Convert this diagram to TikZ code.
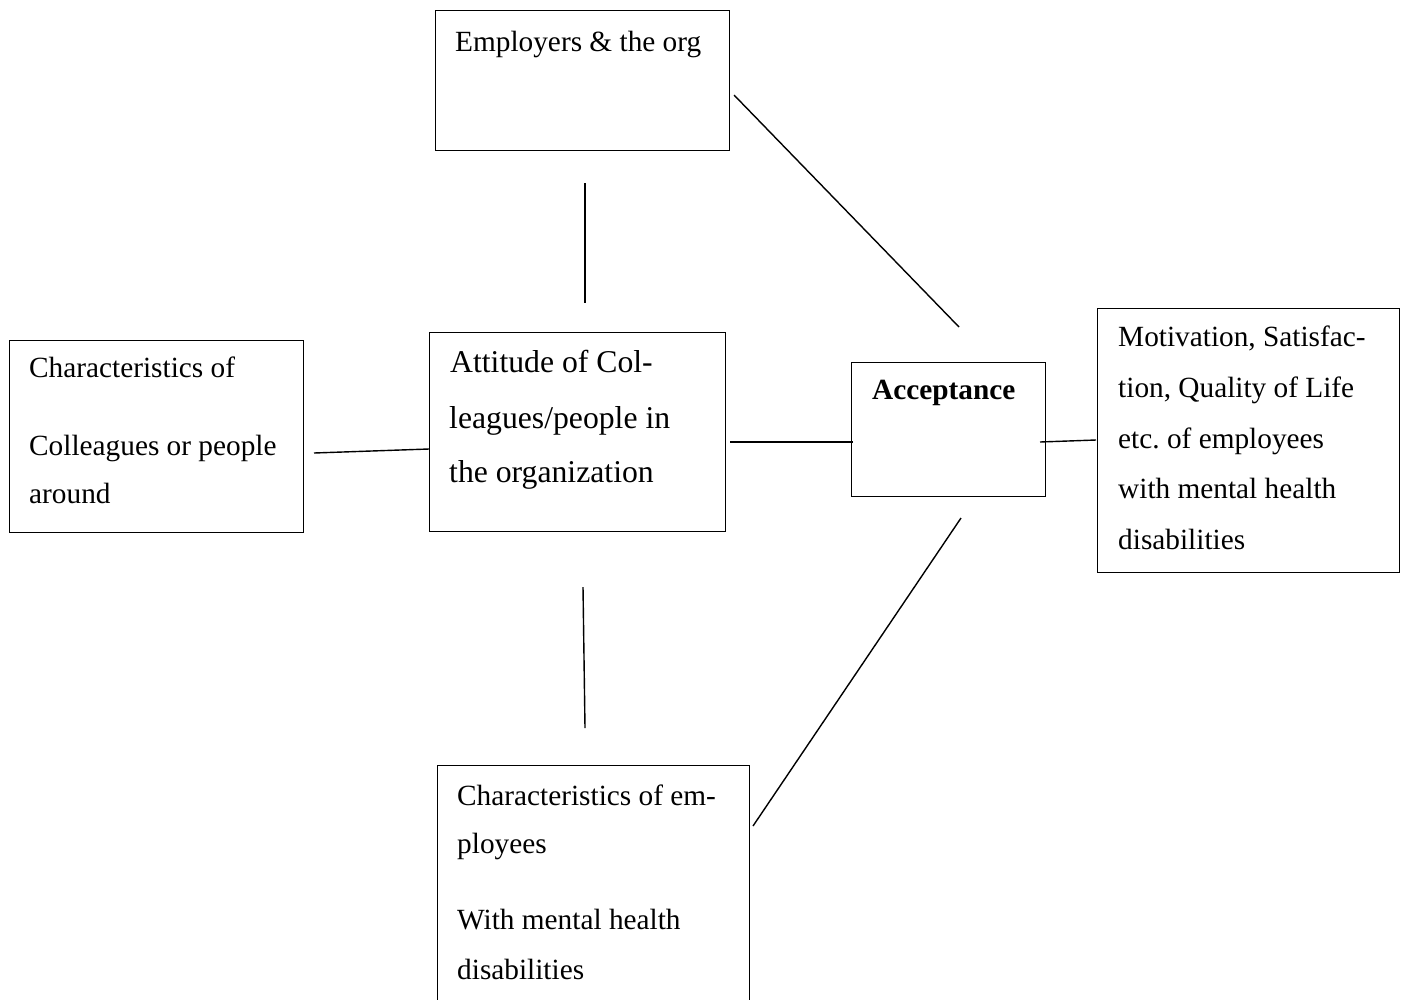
\documentclass[tikz,border=0pt]{standalone}
\usepackage{fontspec}
\setmainfont{Liberation Serif}
\frenchspacing
\begin{document}
\begin{tikzpicture}[x=1pt,y=-1pt,
  box/.style={draw,line width=1.2pt,rectangle,inner sep=0pt,anchor=north west},
  txt/.style={anchor=base west,inner sep=0pt,font=\fontsize{29.3}{35}\selectfont},
  bigtxt/.style={anchor=base west,inner sep=0pt,font=\fontsize{31.7}{38}\selectfont},
  link/.style={line width=1.4pt}]
\clip (0,0) rectangle (1405,999);
\fill[white] (0,0) rectangle (1405,999);

% boxes
\node[box,minimum width=294pt,minimum height=140pt] (emp) at (435,10) {};
\node[box,minimum width=294pt,minimum height=192pt] (char) at (9,340) {};
\node[box,minimum width=296pt,minimum height=199pt] (att) at (429,332) {};
\node[box,minimum width=194pt,minimum height=134pt] (acc) at (851,362) {};
\node[box,minimum width=302pt,minimum height=264pt] (mot) at (1097,308) {};
\node[box,minimum width=312pt,minimum height=260pt] (emd) at (437,765) {};

% texts
\node[txt] (t1) at (455,51) {Employers \& the org};

\node[txt] (t2) at (29,377) {Characteristics of};
\node[txt] (t3) at (29,455) {Colleagues or people};
\node[txt] (t4) at (29,503) {around};

\node[bigtxt] (t5) at (450,372) {Attitude of Col-};
\node[bigtxt] (t6) at (449,428) {leagues/people in};
\node[bigtxt] (t7) at (449,482) {the organization};

\node[txt,font=\fontsize{29.3}{35}\selectfont\bfseries] (t8) at (872,399) {Acceptance};

\node[txt] (t9) at (1118,346) {Motivation, Satisfac-};
\node[txt] (t10) at (1118,397) {tion, Quality of Life};
\node[txt] (t11) at (1118,448) {etc.\ of employees};
\node[txt] (t12) at (1118,498) {with mental health};
\node[txt] (t13) at (1118,549) {disabilities};

\node[txt] (t14) at (457,805) {Characteristics of em-};
\node[txt] (t15) at (457,853) {ployees};
\node[txt] (t16) at (457,929) {With mental health};
\node[txt] (t17) at (457,979) {disabilities};

% connector end points
\coordinate (a1) at (585,183);
\coordinate (a2) at (585,303);
\coordinate (b1) at (734,95);
\coordinate (b2) at (959,327);
\coordinate (c1) at (314,453);
\coordinate (c2) at (429,449);
\coordinate (d1) at (730,442);
\coordinate (d2) at (853,442);
\coordinate (e1) at (1040,442);
\coordinate (e2) at (1096,440);
\coordinate (f1) at (583,587);
\coordinate (f2) at (585,728);
\coordinate (g1) at (753,826);
\coordinate (g2) at (961,518);

\draw[link] (a1) -- (a2);
\draw[link] (b1) -- (b2);
\draw[link] (c1) -- (c2);
\draw[link] (d1) -- (d2);
\draw[link] (e1) -- (e2);
\draw[link] (f1) -- (f2);
\draw[link] (g1) -- (g2);
\end{tikzpicture}
\end{document}
